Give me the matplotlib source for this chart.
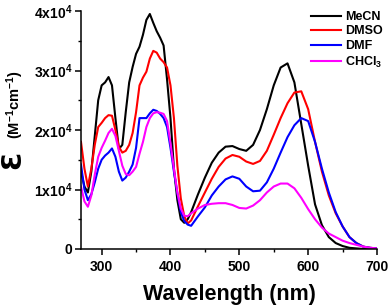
import numpy as np
import matplotlib
matplotlib.use("Agg")
import matplotlib.pyplot as plt
from matplotlib.ticker import MultipleLocator

plt.rcParams['font.family'] = ['Liberation Sans', 'DejaVu Sans']
plt.rcParams['font.weight'] = 'bold'
plt.rcParams['mathtext.fontset'] = 'custom'
plt.rcParams['mathtext.rm'] = 'Liberation Sans:bold'
plt.rcParams['mathtext.default'] = 'rm'

# wavelength grid (nm)
wl = [270, 275, 280, 285, 290, 295, 300, 305, 310, 315, 320, 325, 330, 335, 340,
      345, 350, 355, 360, 365, 370, 375, 380, 385, 390, 395, 400, 405, 410, 415,
      420, 425, 430, 440, 450, 460, 470, 480, 490, 500, 510, 520, 530, 540, 550,
      560, 570, 580, 590, 600, 610, 620, 630, 640, 650, 660, 670, 680, 690, 700]

# molar absorptivity, in units of 1e4 M-1 cm-1
mecn = [1.30, 1.05, 0.95, 1.30, 1.90, 2.50, 2.75, 2.80, 2.89, 2.75, 2.20, 1.68, 1.75, 2.30, 2.80,
        3.06, 3.28, 3.40, 3.60, 3.85, 3.95, 3.80, 3.66, 3.55, 3.42, 2.85, 2.20, 1.35, 0.82, 0.50,
        0.44, 0.50, 0.62, 0.92, 1.20, 1.45, 1.62, 1.72, 1.73, 1.68, 1.65, 1.75, 2.00, 2.35, 2.75,
        3.05, 3.12, 2.80, 2.10, 1.40, 0.75, 0.40, 0.20, 0.10, 0.05, 0.02, 0.01, 0.00, 0.00, 0.00]
dmso = [1.80, 1.35, 1.05, 1.35, 1.75, 2.05, 2.12, 2.20, 2.25, 2.24, 2.00, 1.72, 1.62, 1.65, 1.75,
        1.95, 2.30, 2.75, 2.88, 2.98, 3.20, 3.33, 3.30, 3.20, 3.14, 3.05, 2.75, 2.20, 1.40, 0.85,
        0.55, 0.43, 0.48, 0.72, 0.95, 1.18, 1.38, 1.52, 1.58, 1.55, 1.47, 1.43, 1.48, 1.65, 1.92,
        2.20, 2.45, 2.63, 2.65, 2.35, 1.80, 1.30, 0.90, 0.60, 0.38, 0.20, 0.10, 0.04, 0.02, 0.01]
dmf = [1.42, 1.00, 0.82, 0.92, 1.12, 1.35, 1.50, 1.57, 1.62, 1.69, 1.55, 1.30, 1.15, 1.20, 1.30,
       1.42, 1.70, 2.20, 2.20, 2.20, 2.28, 2.34, 2.32, 2.27, 2.20, 2.05, 1.70, 1.30, 0.94, 0.62,
       0.47, 0.41, 0.39, 0.55, 0.70, 0.90, 1.05, 1.17, 1.22, 1.18, 1.05, 0.97, 0.98, 1.12, 1.35,
       1.62, 1.88, 2.08, 2.20, 2.15, 1.80, 1.35, 0.95, 0.62, 0.38, 0.20, 0.10, 0.04, 0.02, 0.01]
chcl3 = [1.05, 0.80, 0.71, 0.90, 1.25, 1.55, 1.70, 1.82, 1.95, 2.02, 1.90, 1.65, 1.40, 1.26, 1.24,
         1.30, 1.38, 1.60, 1.80, 2.05, 2.20, 2.28, 2.30, 2.29, 2.27, 2.15, 1.78, 1.35, 0.95, 0.68,
         0.56, 0.55, 0.60, 0.68, 0.74, 0.76, 0.77, 0.77, 0.74, 0.69, 0.68, 0.73, 0.82, 0.95, 1.05,
         1.10, 1.10, 1.02, 0.86, 0.67, 0.50, 0.36, 0.26, 0.20, 0.14, 0.10, 0.07, 0.04, 0.02, 0.01]

series = [("MeCN", mecn, "black"), ("DMSO", dmso, "red"),
          ("DMF", dmf, "blue"), ("CHCl$_3$", chcl3, "magenta")]

yticks = [0, 1e4, 2e4, 3e4, 4e4]
ytick_labels = ["0", "1x10$^4$", "2x10$^4$", "3x10$^4$", "4x10$^4$"]
xticks = [300, 400, 500, 600, 700]

fig = plt.figure(figsize=(3.92, 3.07), dpi=100)
ax = fig.add_axes([81/392, 58/307, 296/392, 238/307])

for name, vals, col in series:
    ax.plot(wl, np.array(vals) * 1e4, color=col, lw=1.5, label=name)

ax.set_xlim(270, 700)
ax.set_ylim(0, 4e4)
ax.set_xticks(xticks)
ax.xaxis.set_minor_locator(MultipleLocator(50))
ax.set_yticks(yticks)
ax.set_yticklabels(ytick_labels)
ax.yaxis.set_minor_locator(MultipleLocator(5000))
for s in ['top', 'right']:
    ax.spines[s].set_visible(False)
for s in ['left', 'bottom']:
    ax.spines[s].set_linewidth(1.1)
ax.tick_params(which='major', direction='out', length=4, width=1.1, labelsize=10, pad=2.5)
ax.tick_params(axis='x', which='major', pad=4)
ax.tick_params(which='minor', direction='out', length=2.5, width=1.0)

ax.set_xlabel("Wavelength (nm)", fontsize=15.5, fontweight='bold', labelpad=7)
fig.text(13/392, 1 - 160/307, "\u0190", rotation=90, fontsize=19, fontweight='bold',
         ha='center', va='center', family=['DejaVu Sans'])
fig.text(15/392, 1 - 105/307, "(M$^{-1}$cm$^{-1}$)", rotation=90, fontsize=10.5,
         fontweight='bold', ha='center', va='center')

ax.legend(loc='upper left', bbox_to_anchor=(311/392, 1 - 11/307), bbox_transform=fig.transFigure,
          frameon=False, fontsize=9, handlelength=2.4, handletextpad=0.3,
          labelspacing=0.2, borderpad=0, borderaxespad=0)

plt.savefig("out.png", dpi=100)
